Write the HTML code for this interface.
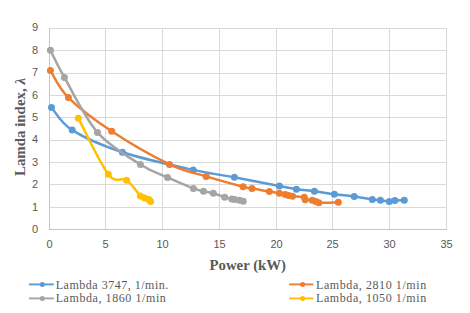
<!DOCTYPE html>
<html><head><meta charset="utf-8"><style>
html,body{margin:0;padding:0;background:#fff;}
svg{display:block;}
.tk{font-family:"Liberation Sans",sans-serif;font-size:11px;fill:#595959;}
.ti{font-family:"Liberation Serif",serif;font-weight:bold;font-size:15px;fill:#595959;}
.lg{font-family:"Liberation Serif",serif;font-size:12px;fill:#595959;}
</style></head><body>
<svg width="470" height="313" viewBox="0 0 470 313">
<rect width="470" height="313" fill="#fff"/>
<line x1="49" y1="207.5" x2="447" y2="207.5" stroke="#d9d9d9" stroke-width="1"/>
<line x1="49" y1="184.5" x2="447" y2="184.5" stroke="#d9d9d9" stroke-width="1"/>
<line x1="49" y1="162.5" x2="447" y2="162.5" stroke="#d9d9d9" stroke-width="1"/>
<line x1="49" y1="140.5" x2="447" y2="140.5" stroke="#d9d9d9" stroke-width="1"/>
<line x1="49" y1="117.5" x2="447" y2="117.5" stroke="#d9d9d9" stroke-width="1"/>
<line x1="49" y1="95.5" x2="447" y2="95.5" stroke="#d9d9d9" stroke-width="1"/>
<line x1="49" y1="73.5" x2="447" y2="73.5" stroke="#d9d9d9" stroke-width="1"/>
<line x1="49" y1="50.5" x2="447" y2="50.5" stroke="#d9d9d9" stroke-width="1"/>
<line x1="49" y1="28.5" x2="447" y2="28.5" stroke="#d9d9d9" stroke-width="1"/>
<line x1="105.5" y1="28" x2="105.5" y2="230" stroke="#d9d9d9" stroke-width="1"/>
<line x1="162.5" y1="28" x2="162.5" y2="230" stroke="#d9d9d9" stroke-width="1"/>
<line x1="219.5" y1="28" x2="219.5" y2="230" stroke="#d9d9d9" stroke-width="1"/>
<line x1="276.5" y1="28" x2="276.5" y2="230" stroke="#d9d9d9" stroke-width="1"/>
<line x1="332.5" y1="28" x2="332.5" y2="230" stroke="#d9d9d9" stroke-width="1"/>
<line x1="389.5" y1="28" x2="389.5" y2="230" stroke="#d9d9d9" stroke-width="1"/>
<line x1="446.5" y1="28" x2="446.5" y2="230" stroke="#d9d9d9" stroke-width="1"/>
<line x1="49.5" y1="28" x2="49.5" y2="230" stroke="#c6c6c6" stroke-width="1"/>
<line x1="49" y1="229.5" x2="447" y2="229.5" stroke="#c6c6c6" stroke-width="1"/>
<text x="38" y="233.10" text-anchor="end" class="tk">0</text>
<text x="38" y="210.68" text-anchor="end" class="tk">1</text>
<text x="38" y="188.26" text-anchor="end" class="tk">2</text>
<text x="38" y="165.84" text-anchor="end" class="tk">3</text>
<text x="38" y="143.42" text-anchor="end" class="tk">4</text>
<text x="38" y="121.00" text-anchor="end" class="tk">5</text>
<text x="38" y="98.58" text-anchor="end" class="tk">6</text>
<text x="38" y="76.16" text-anchor="end" class="tk">7</text>
<text x="38" y="53.74" text-anchor="end" class="tk">8</text>
<text x="38" y="31.32" text-anchor="end" class="tk">9</text>
<text x="49.5" y="248" text-anchor="middle" class="tk">0</text>
<text x="105.5" y="248" text-anchor="middle" class="tk">5</text>
<text x="162.5" y="248" text-anchor="middle" class="tk">10</text>
<text x="219.5" y="248" text-anchor="middle" class="tk">15</text>
<text x="276.5" y="248" text-anchor="middle" class="tk">20</text>
<text x="332.5" y="248" text-anchor="middle" class="tk">25</text>
<text x="389.5" y="248" text-anchor="middle" class="tk">30</text>
<text x="446.5" y="248" text-anchor="middle" class="tk">35</text>
<path d="M51.50,107.50 C54.95,111.27 60.38,122.65 72.20,130.10 C84.02,137.55 102.23,145.57 122.40,152.20 C142.57,158.83 174.53,165.72 193.20,169.90 C211.87,174.08 220.03,174.60 234.40,177.30 C248.77,180.00 269.07,184.12 279.40,186.10 C289.73,188.08 290.57,188.33 296.40,189.20 C302.23,190.07 308.07,190.47 314.40,191.30 C320.73,192.13 327.77,193.33 334.40,194.20 C341.03,195.07 347.88,195.63 354.20,196.50 C360.52,197.37 367.93,198.77 372.30,199.40 C376.67,200.03 377.57,199.95 380.40,200.30 C383.23,200.65 386.88,201.45 389.30,201.50 C391.72,201.55 392.40,200.80 394.90,200.60 C397.40,200.40 402.73,200.35 404.30,200.30" fill="none" stroke="#5b9bd5" stroke-width="2.5" stroke-linecap="round" stroke-linejoin="round"/>
<circle cx="51.5" cy="107.5" r="3.5" fill="#5b9bd5"/>
<circle cx="72.2" cy="130.1" r="3.5" fill="#5b9bd5"/>
<circle cx="122.4" cy="152.2" r="3.5" fill="#5b9bd5"/>
<circle cx="193.2" cy="169.9" r="3.5" fill="#5b9bd5"/>
<circle cx="234.4" cy="177.3" r="3.5" fill="#5b9bd5"/>
<circle cx="279.4" cy="186.1" r="3.5" fill="#5b9bd5"/>
<circle cx="296.4" cy="189.2" r="3.5" fill="#5b9bd5"/>
<circle cx="314.4" cy="191.3" r="3.5" fill="#5b9bd5"/>
<circle cx="334.4" cy="194.2" r="3.5" fill="#5b9bd5"/>
<circle cx="354.2" cy="196.5" r="3.5" fill="#5b9bd5"/>
<circle cx="372.3" cy="199.4" r="3.5" fill="#5b9bd5"/>
<circle cx="380.4" cy="200.3" r="3.5" fill="#5b9bd5"/>
<circle cx="389.3" cy="201.5" r="3.5" fill="#5b9bd5"/>
<circle cx="394.9" cy="200.6" r="3.5" fill="#5b9bd5"/>
<circle cx="404.3" cy="200.3" r="3.5" fill="#5b9bd5"/>
<path d="M50.40,70.50 C53.40,75.02 58.18,87.47 68.40,97.60 C78.62,107.73 94.85,120.17 111.70,131.30 C128.55,142.43 153.75,156.88 169.50,164.40 C185.25,171.92 193.93,172.67 206.20,176.40 C218.47,180.13 235.47,184.77 243.10,186.80 C250.73,188.83 247.62,187.83 252.00,188.60 C256.38,189.37 264.83,190.63 269.40,191.40 C273.97,192.17 276.75,192.67 279.40,193.20 C282.05,193.73 283.73,194.23 285.30,194.60 C286.87,194.97 287.60,195.12 288.80,195.40 C290.00,195.68 289.92,195.98 292.50,196.30 C295.08,196.62 302.18,196.73 304.30,197.30 C306.42,197.87 303.87,199.20 305.20,199.70 C306.53,200.20 310.53,200.02 312.30,200.30 C314.07,200.58 314.72,201.00 315.80,201.40 C316.88,201.80 315.05,202.55 318.80,202.70 C322.55,202.85 335.05,202.37 338.30,202.30" fill="none" stroke="#ed7d31" stroke-width="2.5" stroke-linecap="round" stroke-linejoin="round"/>
<circle cx="50.4" cy="70.5" r="3.5" fill="#ed7d31"/>
<circle cx="68.4" cy="97.6" r="3.5" fill="#ed7d31"/>
<circle cx="111.7" cy="131.3" r="3.5" fill="#ed7d31"/>
<circle cx="169.5" cy="164.4" r="3.5" fill="#ed7d31"/>
<circle cx="206.2" cy="176.4" r="3.5" fill="#ed7d31"/>
<circle cx="243.1" cy="186.8" r="3.5" fill="#ed7d31"/>
<circle cx="252.0" cy="188.6" r="3.5" fill="#ed7d31"/>
<circle cx="269.4" cy="191.4" r="3.5" fill="#ed7d31"/>
<circle cx="279.4" cy="193.2" r="3.5" fill="#ed7d31"/>
<circle cx="285.3" cy="194.6" r="3.5" fill="#ed7d31"/>
<circle cx="288.8" cy="195.4" r="3.5" fill="#ed7d31"/>
<circle cx="292.5" cy="196.3" r="3.5" fill="#ed7d31"/>
<circle cx="304.3" cy="197.3" r="3.5" fill="#ed7d31"/>
<circle cx="305.2" cy="199.7" r="3.5" fill="#ed7d31"/>
<circle cx="312.3" cy="200.3" r="3.5" fill="#ed7d31"/>
<circle cx="315.8" cy="201.4" r="3.5" fill="#ed7d31"/>
<circle cx="318.8" cy="202.7" r="3.5" fill="#ed7d31"/>
<circle cx="338.3" cy="202.3" r="3.5" fill="#ed7d31"/>
<path d="M50.40,50.20 C52.73,54.73 56.55,63.70 64.40,77.40 C72.25,91.10 84.83,117.88 97.50,132.40 C110.17,146.92 128.73,157.00 140.40,164.50 C152.07,172.00 158.67,173.42 167.50,177.40 C176.33,181.38 187.40,186.10 193.40,188.40 C199.40,190.70 200.18,190.38 203.50,191.20 C206.82,192.02 209.77,192.30 213.30,193.30 C216.83,194.30 221.62,196.27 224.70,197.20 C227.78,198.13 230.13,198.53 231.80,198.90 C233.47,199.27 233.42,199.17 234.70,199.40 C235.98,199.63 238.07,199.98 239.50,200.30 C240.93,200.62 242.67,201.13 243.30,201.30" fill="none" stroke="#a5a5a5" stroke-width="2.5" stroke-linecap="round" stroke-linejoin="round"/>
<circle cx="50.4" cy="50.2" r="3.5" fill="#a5a5a5"/>
<circle cx="64.4" cy="77.4" r="3.5" fill="#a5a5a5"/>
<circle cx="97.5" cy="132.4" r="3.5" fill="#a5a5a5"/>
<circle cx="140.4" cy="164.5" r="3.5" fill="#a5a5a5"/>
<circle cx="167.5" cy="177.4" r="3.5" fill="#a5a5a5"/>
<circle cx="193.4" cy="188.4" r="3.5" fill="#a5a5a5"/>
<circle cx="203.5" cy="191.2" r="3.5" fill="#a5a5a5"/>
<circle cx="213.3" cy="193.3" r="3.5" fill="#a5a5a5"/>
<circle cx="224.7" cy="197.2" r="3.5" fill="#a5a5a5"/>
<circle cx="231.8" cy="198.9" r="3.5" fill="#a5a5a5"/>
<circle cx="234.7" cy="199.4" r="3.5" fill="#a5a5a5"/>
<circle cx="239.5" cy="200.3" r="3.5" fill="#a5a5a5"/>
<circle cx="243.3" cy="201.3" r="3.5" fill="#a5a5a5"/>
<path d="M78.30,118.20 C83.30,127.55 100.25,163.95 108.30,174.30 C116.35,184.65 121.25,176.68 126.60,180.30 C131.95,183.92 137.40,193.03 140.40,196.00 C143.40,198.97 143.18,197.50 144.60,198.10 C146.02,198.70 147.90,199.03 148.90,199.60 C149.90,200.17 150.32,201.18 150.60,201.50" fill="none" stroke="#ffc000" stroke-width="2.5" stroke-linecap="round" stroke-linejoin="round"/>
<circle cx="78.3" cy="118.2" r="3.5" fill="#ffc000"/>
<circle cx="108.3" cy="174.3" r="3.5" fill="#ffc000"/>
<circle cx="126.6" cy="180.3" r="3.5" fill="#ffc000"/>
<circle cx="140.4" cy="196.0" r="3.5" fill="#ffc000"/>
<circle cx="144.6" cy="198.1" r="3.5" fill="#ffc000"/>
<circle cx="148.9" cy="199.6" r="3.5" fill="#ffc000"/>
<circle cx="150.6" cy="201.5" r="3.5" fill="#ffc000"/>
<text x="209.5" y="270" class="ti" textLength="76.5" lengthAdjust="spacingAndGlyphs">Power (kW)</text>
<text transform="translate(25,176) rotate(-90)" x="0" y="0" class="ti" textLength="98" lengthAdjust="spacingAndGlyphs">Lamda index, <tspan style="font-style:italic;font-weight:bold">λ</tspan></text>
<line x1="28.9" y1="284.4" x2="53.8" y2="284.4" stroke="#5b9bd5" stroke-width="1.9"/>
<circle cx="42.3" cy="284.4" r="2.5" fill="#5b9bd5"/>
<text x="55.7" y="288.6" class="lg" textLength="112.6" lengthAdjust="spacing">Lambda 3747, 1/min.</text>
<line x1="289.1" y1="284.4" x2="313.4" y2="284.4" stroke="#ed7d31" stroke-width="1.9"/>
<circle cx="302.6" cy="284.4" r="2.5" fill="#ed7d31"/>
<text x="316" y="288.6" class="lg" textLength="110.2" lengthAdjust="spacing">Lambda, 2810 1/min</text>
<line x1="28.9" y1="298.4" x2="53.8" y2="298.4" stroke="#a5a5a5" stroke-width="1.9"/>
<circle cx="42.3" cy="298.4" r="2.5" fill="#a5a5a5"/>
<text x="55.7" y="301.7" class="lg" textLength="110.1" lengthAdjust="spacing">Lambda, 1860 1/min</text>
<line x1="289.1" y1="298.4" x2="313.4" y2="298.4" stroke="#ffc000" stroke-width="1.9"/>
<circle cx="302.6" cy="298.4" r="2.5" fill="#ffc000"/>
<text x="316" y="301.7" class="lg" textLength="110.2" lengthAdjust="spacing">Lambda, 1050 1/min</text>
</svg>
</body></html>
